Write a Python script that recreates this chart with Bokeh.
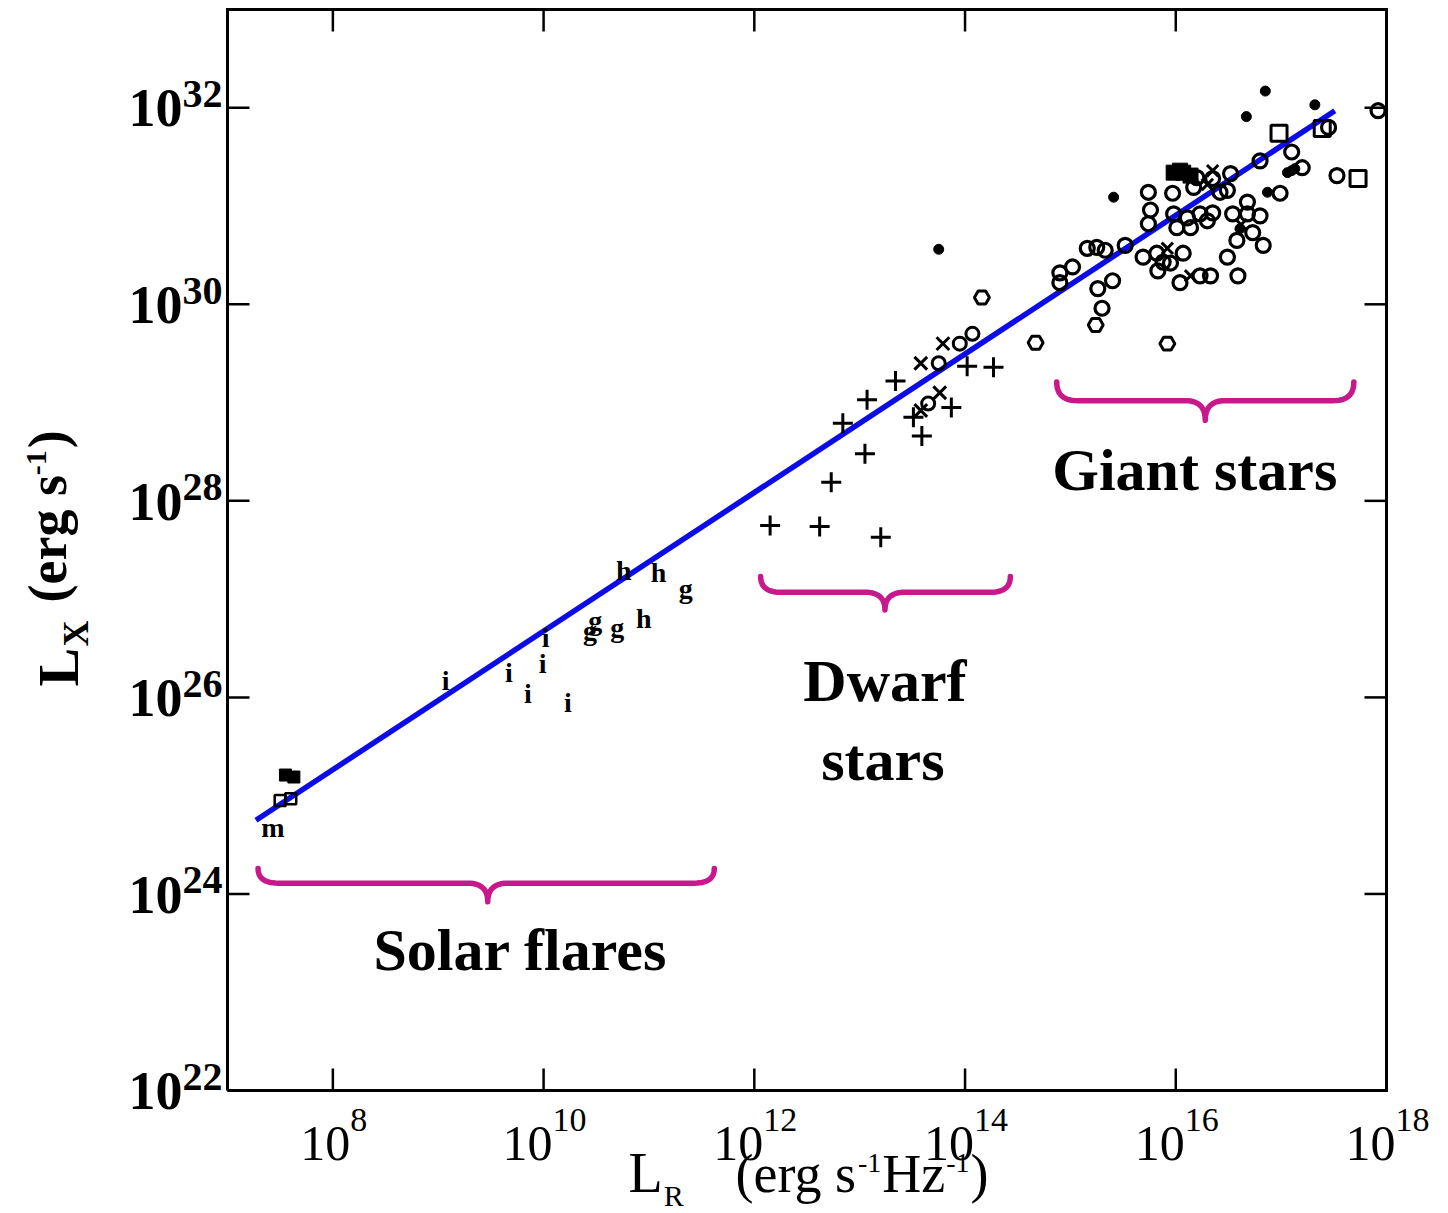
import math
from bokeh.plotting import figure
from bokeh.models import Label, Range1d
from bokeh.core.properties import value
from bokeh.embed import file_html
from bokeh.resources import INLINE

# ---------------- data (log10 values) ----------------
x_tick_exps = [8, 10, 12, 14, 16, 18]
y_tick_exps = [22, 24, 26, 28, 30, 32]

# giant stars: open circles
giant_circ_lr = [17.53, 17.10, 17.20, 16.80, 16.52, 16.35, 16.20, 16.17, 16.42, 15.74,
                 15.97, 15.76, 15.74, 15.98, 16.11, 16.23, 16.35, 16.30, 16.01, 16.14,
                 16.68, 16.54, 16.68, 16.80, 16.99, 16.73, 16.58, 16.83, 16.49, 16.59,
                 15.69, 15.82, 16.07, 15.95, 15.83, 16.04, 16.23, 16.33, 15.16, 15.25,
                 15.33, 15.52, 14.90, 15.02, 14.90, 15.26, 15.40, 15.30, 17.92, 16.49,
                 15.88, 17.45]
giant_circ_lx = [31.31, 31.55, 31.39, 31.46, 31.33, 31.28, 31.29, 31.19, 31.14, 31.14,
                 31.13, 30.96, 30.82, 30.92, 30.88, 30.92, 30.93, 30.85, 30.78, 30.78,
                 31.04, 30.92, 30.92, 30.90, 31.13, 30.73, 30.65, 30.60, 30.48, 30.29,
                 30.48, 30.52, 30.52, 30.42, 30.34, 30.22, 30.29, 30.29, 30.57, 30.58,
                 30.55, 30.60, 30.32, 30.38, 30.22, 30.16, 30.24, 29.96, 31.97, 31.16,
                 30.43, 31.80]

# giant stars: filled dots
giant_dot_lr = [16.85, 17.32, 16.67, 15.41, 13.75, 17.06, 17.13, 16.87, 16.61, 17.10]
giant_dot_lx = [32.17, 32.03, 31.91, 31.09, 30.56, 31.34, 31.38, 31.14, 30.77, 31.36]

# giant stars: open squares
giant_sq_lr = [16.98, 17.73, 17.39]
giant_sq_lx = [31.74, 31.28, 31.79]

# giant stars: filled squares
giant_fsq_lr = [15.98, 16.07, 16.14, 16.04]
giant_fsq_lx = [31.34, 31.34, 31.31, 31.36]

# giant stars: crosses (x)
giant_x_lr = [16.35, 15.92, 16.14, 16.30, 16.62]
giant_x_lx = [31.36, 30.57, 30.29, 31.22, 30.81]

# open pentagon-like markers
diam_lr = [14.67, 15.24, 15.92, 14.16]
diam_lx = [29.61, 29.79, 29.60, 30.07]

# dwarf stars: plus signs
dwarf_plus_lr = [12.15, 12.62, 13.20, 12.73, 13.05, 12.84, 13.07, 13.34, 13.59, 13.51,
                 13.87, 14.02, 14.27]
dwarf_plus_lx = [27.75, 27.74, 27.63, 28.19, 28.48, 28.79, 29.03, 29.22, 28.66, 28.85,
                 28.95, 29.37, 29.36]

# dwarf stars: crosses (x)
dwarf_x_lr = [13.58, 13.79, 13.76, 13.58]
dwarf_x_lx = [29.40, 29.60, 29.10, 28.92]

# dwarf stars: open circles
dwarf_circ_lr = [13.75, 13.95, 14.07, 13.65]
dwarf_circ_lx = [29.40, 29.60, 29.70, 28.99]

# solar flares: reference letters
flare_letter = ["i", "i", "i", "i", "i", "i", "g", "g", "g", "h", "h", "h", "g", "m"]
flare_lr = [9.07, 9.67, 9.85, 9.99, 10.02, 10.23, 10.44, 10.49, 10.70, 10.95, 10.76, 11.09, 11.35, 7.43]
flare_lx = [26.17, 26.25, 26.04, 26.35, 26.61, 25.95, 26.68, 26.78, 26.71, 26.80, 27.29, 27.27, 27.11, 24.68]

# solar flares: small squares
flare_fsq_lr = [7.55, 7.63]
flare_fsq_lx = [25.21, 25.19]
flare_sq_lr = [7.50, 7.60]
flare_sq_lx = [24.95, 24.97]

# best-fit line end points
fit_lr = [7.27, 17.51]
fit_lx = [24.75, 31.97]

# region braces: (x start, x end, x tip, y ends, y line, y tip) in log10 units
brace_names = ["Solar flares", "Dwarf stars", "Giant stars"]
brace_x0 = [7.29, 12.06, 14.87]
brace_x1 = [11.62, 14.43, 17.69]
brace_xc = [9.47, 13.24, 16.28]
brace_ye = [24.26, 27.23, 29.21]
brace_yl = [24.11, 27.07, 29.02]
brace_yt = [23.92, 26.89, 28.82]

region_text = ["Solar flares", "Dwarf", "stars", "Giant stars"]
region_lr = [9.78, 13.24, 13.22, 16.18]
region_lx = [23.43, 26.17, 25.36, 28.31]

# ---------------- geometry ----------------
FONT = "Liberation Serif"
W, H = 1448, 1213
L, R, T, B = 227, 62, 9, 123          # page margins of the plot box
XMIN, XMAX, YMIN, YMAX = 7, 18, 22, 33
PXD = (W - L - R) / (XMAX - XMIN)      # pixels per decade, x
PYD = (H - T - B) / (YMAX - YMIN)      # pixels per decade, y
MID = 0.34                             # baseline offset of a "middle" anchored text, in em

# approximate advance widths (em) of the serif font, used to chain title pieces
ADV = {"(": .333, ")": .333, "e": .444, "r": .333, "g": .5, " ": .25, "s": .389,
       "-": .333, "1": .5, "H": .722, "z": .444, "L": .611, "R": .667, "X": .722}


def tw(text, size, bold=False):
    return sum(ADV.get(c, .5) for c in text) * size * (1.04 if bold else 1.0)


def pw(a):
    return [10.0 ** v for v in a]


def Xpx(px):
    return 10 ** (XMIN + (px - L) / PXD)


def Ypx(py):
    return 10 ** (YMAX - (py - T) / PYD)


p = figure(width=W, height=H, x_axis_type="log", y_axis_type="log",
           x_range=Range1d(Xpx(0), Xpx(W)), y_range=Range1d(Ypx(H), Ypx(0)),
           x_axis_location=None, y_axis_location=None,
           output_backend="svg", toolbar_location=None,
           min_border=0, min_border_left=0, min_border_right=0,
           min_border_top=0, min_border_bottom=0)
p.background_fill_color = "white"
p.border_fill_color = "white"
p.grid.visible = False
p.outline_line_color = None

x_lo, x_hi, y_lo, y_hi = 10.0 ** XMIN, 10.0 ** XMAX, 10.0 ** YMIN, 10.0 ** YMAX
xt = [10.0 ** e for e in x_tick_exps]
yt = [10.0 ** e for e in y_tick_exps]

# ---------------- box and ticks ----------------
TICK = 22
p.segment(xt, [y_lo] * len(xt), xt, [10 ** (YMIN + TICK / PYD)] * len(xt),
          line_color="black", line_width=2.5)
p.segment(xt, [y_hi] * len(xt), xt, [10 ** (YMAX - TICK / PYD)] * len(xt),
          line_color="black", line_width=2.5)
p.segment([x_lo] * len(yt), yt, [10 ** (XMIN + TICK / PXD)] * len(yt), yt,
          line_color="black", line_width=2.5)
p.segment([x_hi] * len(yt), yt, [10 ** (XMAX - TICK / PXD)] * len(yt), yt,
          line_color="black", line_width=2.5)
p.line([x_lo, x_hi, x_hi, x_lo, x_lo], [y_lo, y_lo, y_hi, y_hi, y_lo],
       line_color="black", line_width=3, line_join="miter")

# ---------------- braces ----------------
MAG = "#c8188c"
wpx = 0.19  # curl width in decades


def quad(p0, c, p1, n=14):
    pts = []
    for k in range(n + 1):
        t = k / n
        a, b, d = (1 - t) ** 2, 2 * (1 - t) * t, t ** 2
        pts.append((a * p0[0] + b * c[0] + d * p1[0], a * p0[1] + b * c[1] + d * p1[1]))
    return pts


for i in range(len(brace_names)):
    x0, x1, xc = brace_x0[i], brace_x1[i], brace_xc[i]
    ye, yl, ytp = brace_ye[i], brace_yl[i], brace_yt[i]
    pts = []
    pts += quad((x0, ye), (x0, yl), (x0 + wpx, yl))
    pts += quad((xc - wpx, yl), (xc, yl), (xc, ytp))
    pts += quad((xc, ytp), (xc, yl), (xc + wpx, yl))
    pts += quad((x1 - wpx, yl), (x1, yl), (x1, ye))
    p.line([10 ** q[0] for q in pts], [10 ** q[1] for q in pts], line_color=MAG,
           line_width=5.5, line_cap="round", line_join="round")

# ---------------- fit line ----------------
p.line(pw(fit_lr), pw(fit_lx), line_color="#0c0ce6", line_width=5.5)

# ---------------- markers ----------------
p.scatter(pw(giant_circ_lr), pw(giant_circ_lx), marker="circle", size=14,
          fill_color=None, line_color="black", line_width=3.2)
p.scatter(pw(dwarf_circ_lr), pw(dwarf_circ_lx), marker="circle", size=13,
          fill_color=None, line_color="black", line_width=3)
p.scatter(pw(giant_dot_lr), pw(giant_dot_lx), marker="circle", size=10,
          fill_color="black", line_color="black")
p.scatter(pw(giant_sq_lr), pw(giant_sq_lx), marker="square", size=16,
          fill_color=None, line_color="black", line_width=3)
p.scatter(pw(giant_fsq_lr), pw(giant_fsq_lx), marker="square", size=15,
          fill_color="black", line_color="black")
p.scatter(pw(giant_x_lr), pw(giant_x_lx), marker="x", size=16,
          line_color="black", line_width=3)
p.scatter(pw(diam_lr), pw(diam_lx), marker="hex", size=15,
          fill_color=None, line_color="black", line_width=3)
p.scatter(pw(dwarf_plus_lr), pw(dwarf_plus_lx), marker="cross", size=20,
          line_color="black", line_width=3)
p.scatter(pw(dwarf_x_lr), pw(dwarf_x_lx), marker="x", size=18,
          line_color="black", line_width=3)
p.scatter(pw(flare_fsq_lr), pw(flare_fsq_lx), marker="square", size=12,
          fill_color="black", line_color="black")
p.scatter(pw(flare_sq_lr), pw(flare_sq_lx), marker="square", size=11,
          fill_color=None, line_color="black", line_width=2.5)
p.text(pw(flare_lr), pw(flare_lx), text=flare_letter, text_font=value(FONT),
       text_font_style="bold", text_font_size="28px", text_align="center",
       text_baseline="middle", text_color="black")

# ---------------- region labels ----------------
for t, lr, lx in zip(region_text, region_lr, region_lx):
    p.add_layout(Label(x=10 ** lr, y=10 ** lx, text=t, text_font=FONT,
                       text_font_style="bold", text_font_size="60px",
                       text_align="center", text_baseline="middle", text_color="black"))

# ---------------- y tick labels ----------------
YBASE_X = 128                      # left edge of the "10"
YBASE_SIZE, YEXP_SIZE = 54, 40
YBASE_DROP = 19                    # baseline of "10" below the tick
p.text([Xpx(YBASE_X)] * len(yt),
       [10.0 ** (e - (YBASE_DROP - MID * YBASE_SIZE) / PYD) for e in y_tick_exps],
       text=["10"] * len(yt), text_font=value(FONT), text_font_style="bold",
       text_font_size=f"{YBASE_SIZE}px", text_align="left", text_baseline="middle",
       text_color="black")
p.text([Xpx(YBASE_X + YBASE_SIZE)] * len(yt),
       [10.0 ** (e + MID * YEXP_SIZE / PYD) for e in y_tick_exps],
       text=[str(e) for e in y_tick_exps], text_font=value(FONT), text_font_style="bold",
       text_font_size=f"{YEXP_SIZE}px", text_align="left", text_baseline="middle",
       text_color="black")

# ---------------- x tick labels ----------------
XBASE_SIZE, XEXP_SIZE = 50, 34
XBASE_BL, XEXP_BL = 1160, 1131     # baselines (page px)
dx = [0.5 * XBASE_SIZE + 1 - 0.25 * XEXP_SIZE * len(str(e)) for e in x_tick_exps]
p.text(xt, [Ypx(XBASE_BL - MID * XBASE_SIZE)] * len(xt), text=["10"] * len(xt), x_offset=dx,
       text_font=value(FONT), text_font_size=f"{XBASE_SIZE}px", text_align="right",
       text_baseline="middle", text_color="black")
p.text(xt, [Ypx(XEXP_BL - MID * XEXP_SIZE)] * len(xt), text=[str(e) for e in x_tick_exps],
       x_offset=dx, text_font=value(FONT), text_font_size=f"{XEXP_SIZE}px",
       text_align="left", text_baseline="middle", text_color="black")


# ---------------- axis titles ----------------
def xtitle(px, baseline, text, size):
    p.text([Xpx(px)], [Ypx(baseline - MID * size)], text=[text], text_font=value(FONT),
           text_font_size=f"{size}px", text_align="left", text_baseline="middle",
           text_color="black")
    return px + tw(text, size)


BIG, SUP = 54, 28
xtitle(628, 1192, "L", 56)
xtitle(628 + tw("L", 56) + 1, 1205, "R", 30)
cx = xtitle(735, 1192, "(erg s", BIG)
cx = xtitle(cx + 1, 1172, "-1", SUP)
cx = xtitle(cx + 1, 1192, "Hz", BIG)
cx = xtitle(cx + 1, 1172, "-1", SUP)
xtitle(cx + 1, 1192, ")", BIG)

A = math.pi / 2


def ytitle(baseline_x, start_py, text, size):
    p.text([Xpx(baseline_x - MID * size)], [Ypx(start_py)], text=[text],
           text_font=value(FONT), text_font_style="bold", text_font_size=f"{size}px",
           text_align="left", text_baseline="middle", angle=A, text_color="black")
    return start_py - tw(text, size, True)


ytitle(78, 686, "L", 58)
ytitle(88, 646, "X", 36)
cy = ytitle(66, 602, "(erg s", BIG)
cy = ytitle(46, cy - 1, "-1", 30)
ytitle(66, cy - 1, ")", BIG)

open("out.html", "w").write(file_html(p, INLINE))
